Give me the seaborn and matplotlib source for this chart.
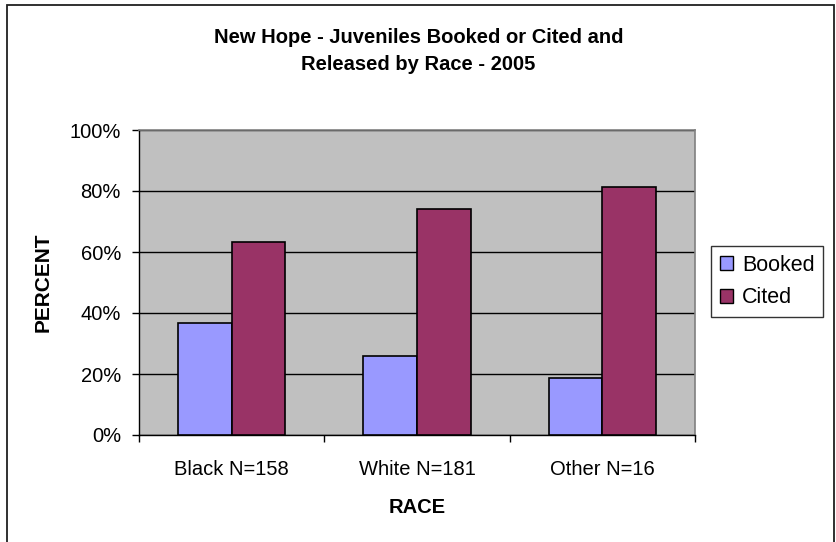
import numpy as np
import pandas as pd
import matplotlib
matplotlib.use('Agg')
import matplotlib.pyplot as plt
import seaborn as sns
from matplotlib.ticker import FixedLocator, PercentFormatter

# 데이터
races = ['Black N=158', 'White N=181', 'Other N=16']
booked = [36.7, 26.0, 18.75]
cited = [63.3, 74.0, 81.25]

df = pd.DataFrame({
    'race': races * 2,
    'status': ['Booked'] * 3 + ['Cited'] * 3,
    'pct': booked + cited,
})

sns.set_theme(style='white')
plt.rcParams['font.family'] = ['Liberation Sans', 'DejaVu Sans']
plt.rcParams['text.color'] = 'black'
plt.rcParams['axes.labelcolor'] = 'black'
plt.rcParams['xtick.color'] = 'black'
plt.rcParams['ytick.color'] = 'black'

W, H = 837, 542
fig = plt.figure(figsize=(W / 100, H / 100), dpi=100)
ax = fig.add_axes([139 / W, 1 - 435 / H, 556 / W, 305 / H])

sns.barplot(data=df, x='race', y='pct', hue='status',
            palette={'Booked': '#9999FF', 'Cited': '#993366'},
            width=0.58, edgecolor='black', linewidth=1.2,
            saturation=1, ax=ax, zorder=3)

ax.set_facecolor('#C0C0C0')
ax.set_ylim(0, 100)
ax.set_xlim(-0.5, 2.5)
ax.yaxis.set_major_locator(FixedLocator([0, 20, 40, 60, 80, 100]))
ax.yaxis.set_major_formatter(PercentFormatter(decimals=0))
ax.grid(True, axis='y', color='black', linewidth=1, zorder=0)
ax.set_axisbelow(True)

for s in ['top', 'right']:
    ax.spines[s].set_color('#808080')
    ax.spines[s].set_linewidth(1.2)
for s in ['left', 'bottom']:
    ax.spines[s].set_color('black')
    ax.spines[s].set_linewidth(1)

# 카테고리 경계에 눈금 표시 (엑셀 스타일)
ax.xaxis.set_minor_locator(FixedLocator([-0.5, 0.5, 1.5, 2.5]))
ax.tick_params(axis='x', which='major', length=0, pad=18, labelsize=14.5)
ax.tick_params(axis='x', which='minor', length=5, width=1, color='black', direction='out', bottom=True)
ax.tick_params(axis='y', length=5, width=1, color='black', direction='out', left=True, labelsize=14.5, pad=8)

ax.set_xlabel('RACE', fontsize=14.5, fontweight='bold', labelpad=14)
ax.set_ylabel('PERCENT', fontsize=15, fontweight='bold', labelpad=12)

fig.text(0.5, 1 - 38 / H, 'New Hope - Juveniles Booked or Cited and',
         ha='center', va='center', fontsize=14.5, fontweight='bold')
fig.text(0.5, 1 - 65 / H, 'Released by Race - 2005',
         ha='center', va='center', fontsize=14.5, fontweight='bold')

leg = ax.legend(loc='upper left', bbox_to_anchor=(711 / W, 1 - 246 / H),
                bbox_transform=fig.transFigure, frameon=True, fancybox=False,
                edgecolor='black', fontsize=15.5, handlelength=0.6, handleheight=0.6,
                handletextpad=0.45, borderpad=0.4, labelspacing=0.55,
                borderaxespad=0, title=None)
leg.get_frame().set_linewidth(1)
for h in leg.legend_handles:
    h.set_edgecolor('black')
    h.set_linewidth(1)

# 바깥 테두리 (아래쪽은 잘림)
fig.patches.append(plt.Rectangle((7 / W, -0.02), 827 / W, 1.02 - 5 / H,
                                 transform=fig.transFigure, fill=False,
                                 edgecolor='#202020', linewidth=1.3))

fig.savefig('out.png', dpi=100)
